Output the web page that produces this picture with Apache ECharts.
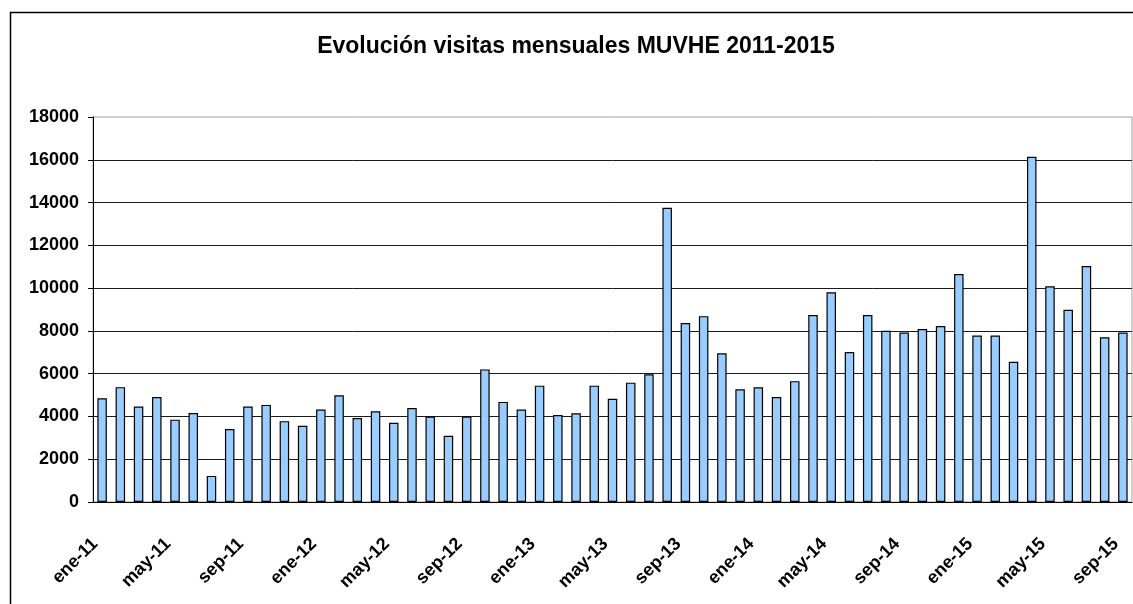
<!DOCTYPE html>
<html>
<head>
<meta charset="utf-8">
<script src="https://cdn.jsdelivr.net/npm/echarts@6/dist/echarts.min.js"></script>
<style>
  html, body { margin: 0; padding: 0; background: #fff; }
  #chart { width: 1133px; height: 604px; }
</style>
</head>
<body>
<div id="chart"></div>
<script>
// meses (ene-11 .. sep-15)
const meses = [
  'ene-11', 'feb-11', 'mar-11', 'abr-11', 'may-11', 'jun-11', 'jul-11', 'ago-11', 'sep-11', 'oct-11', 'nov-11', 'dic-11',
  'ene-12', 'feb-12', 'mar-12', 'abr-12', 'may-12', 'jun-12', 'jul-12', 'ago-12', 'sep-12', 'oct-12', 'nov-12', 'dic-12',
  'ene-13', 'feb-13', 'mar-13', 'abr-13', 'may-13', 'jun-13', 'jul-13', 'ago-13', 'sep-13', 'oct-13', 'nov-13', 'dic-13',
  'ene-14', 'feb-14', 'mar-14', 'abr-14', 'may-14', 'jun-14', 'jul-14', 'ago-14', 'sep-14', 'oct-14', 'nov-14', 'dic-14',
  'ene-15', 'feb-15', 'mar-15', 'abr-15', 'may-15', 'jun-15', 'jul-15', 'ago-15', 'sep-15'
]

// visitas mensuales
const visitas = [
  4850, 5370, 4460, 4910, 3850, 4160, 1220, 3410, 4460, 4540, 3780, 3560, // 2011
  4320, 4990, 3930, 4240, 3700, 4390, 4000, 3100, 4000, 6200, 4680, 4320, // 2012
  5440, 4070, 4150, 5440, 4830, 5580, 5970, 13760, 8370, 8690, 6950, 5270, // 2013
  5360, 4910, 5650, 8740, 9810, 7010, 8740, 8010, 7920, 8090, 8230, 10660, // 2014
  7780, 7780, 6560, 16140, 10090, 8990, 11030, 7700, 7920 // 2015
]

const titulo = 'Evolución visitas mensuales MUVHE 2011-2015'
const fuente = '"Liberation Sans", Arial, sans-serif'

const myChart = echarts.init(document.getElementById('chart'))

const option = {
  animation: false,
  backgroundColor: '#fff',
  graphic: [
    {
      // marco exterior
      type: 'rect',
      silent: true,
      shape: { x: 10.5, y: 12.5, width: 1200, height: 700 },
      style: { fill: 'none', stroke: '#000', lineWidth: 1.5 }
    },
    {
      type: 'text',
      x: 576,
      y: 47,
      style: {
        text: titulo,
        font: 'bold 23px ' + fuente,
        fill: '#000',
        align: 'center',
        verticalAlign: 'middle'
      }
    }
  ],
  grid: {
    left: 93,
    right: 1,
    top: 117,
    bottom: 102,
    show: true,
    borderColor: '#a0a0a0',
    borderWidth: 1
  },
  xAxis: {
    type: 'category',
    data: meses,
    boundaryGap: true,
    axisLine: { lineStyle: { color: '#000', width: 1 } },
    axisTick: { interval: 3, length: 5, lineStyle: { color: '#000' } },
    axisLabel: {
      interval: 3,
      rotate: 45,
      margin: 32,
      padding: [0, 10, 0, 0],
      color: '#000',
      fontFamily: fuente,
      fontWeight: 'bold',
      fontSize: 18
    },
    splitLine: { show: false }
  },
  yAxis: {
    type: 'value',
    min: 0,
    max: 18000,
    interval: 2000,
    axisLine: { show: true, lineStyle: { color: '#000', width: 1 } },
    axisTick: { show: true, length: 5, lineStyle: { color: '#000' } },
    axisLabel: {
      margin: 14,
      color: '#000',
      fontFamily: fuente,
      fontWeight: 'bold',
      fontSize: 18,
      formatter: v => String(v)
    },
    splitLine: { show: true, showMaxLine: false, lineStyle: { color: '#1a1a1a', width: 1 } }
  },
  series: [{
    type: 'bar',
    name: 'Visitas',
    data: visitas,
    barWidth: 9.5,
    itemStyle: {
      color: '#99CCFF',
      borderColor: '#000',
      borderWidth: 1.2
    }
  }]
}

myChart.setOption(option)
</script>
</body>
</html>
